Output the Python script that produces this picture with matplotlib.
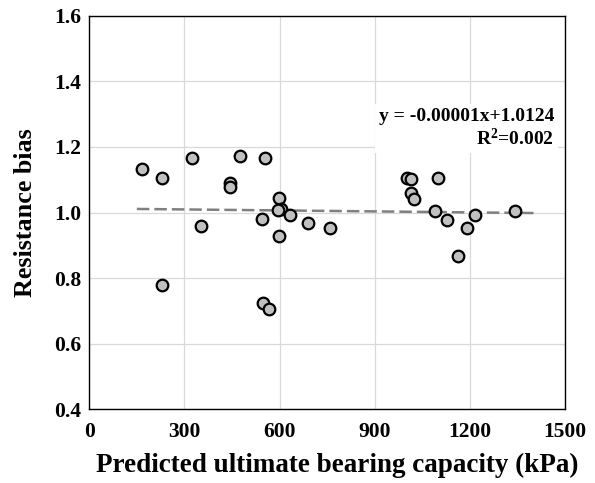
import numpy as np
import matplotlib
matplotlib.use("Agg")
import matplotlib.pyplot as plt

# predicted capacity (kPa) and resistance bias
capacity = [165, 228, 325, 476, 554, 442, 442, 597, 605, 594, 632, 544, 352,
            688, 758, 598, 228, 547, 568,
            1002, 1014, 1098, 1013, 1023, 1088, 1127, 1217, 1191, 1161, 1341]
bias = [1.133, 1.104, 1.167, 1.174, 1.166, 1.090, 1.077, 1.044, 1.012, 1.009,
        0.993, 0.979, 0.960, 0.967, 0.954, 0.929, 0.779, 0.724, 0.705,
        1.105, 1.101, 1.106, 1.059, 1.042, 1.006, 0.977, 0.991, 0.953, 0.866,
        1.004]

# trend line given on the chart
slope = -0.00001
intercept = 1.0124
trend_x = [150, 1400]

xticks = [0, 300, 600, 900, 1200, 1500]
yticks = [0.4, 0.6, 0.8, 1.0, 1.2, 1.4, 1.6]

plt.rcParams["font.family"] = ["Liberation Serif", "DejaVu Serif"]
plt.rcParams["font.weight"] = "bold"
plt.rcParams["mathtext.default"] = "regular"

fig = plt.figure(figsize=(5.95, 4.83), dpi=100)
ax = fig.add_axes([0.150, 0.153, 0.800, 0.814])

tx = np.array(trend_x)
ax.plot(tx, slope * tx + intercept, color="#808080", lw=1.8,
        dashes=(5, 2), zorder=2)
ax.scatter(capacity, bias, s=70, facecolor="#c0c0c0", edgecolor="black",
           linewidth=1.6, zorder=3)

ax.set_xlim(0, 1500)
ax.set_ylim(0.4, 1.6)
ax.set_xticks(xticks)
ax.set_yticks(yticks)
ax.set_yticklabels(["%.1f" % v for v in yticks])
ax.tick_params(length=0, labelsize=15.5)
ax.tick_params(axis="x", pad=9)
ax.tick_params(axis="y", pad=6)
ax.grid(True, color="#d9d9d9", lw=0.9)
ax.set_axisbelow(True)
for s in ax.spines.values():
    s.set_linewidth(1.0)

ax.set_xlabel("Predicted ultimate bearing capacity (kPa)", fontsize=19.5,
              fontweight="bold")
ax.xaxis.set_label_coords(0.522, -0.112)
ax.set_ylabel("Resistance bias", fontsize=18.8, fontweight="bold",
              labelpad=12)

ax.text(1465, 1.256, "y = -0.00001x+1.0124\nR$^2$=0.002",
        ha="right", va="center", fontsize=14, fontweight="bold",
        multialignment="right", linespacing=1.15,
        bbox=dict(facecolor="white", edgecolor="none", pad=3), zorder=4)

fig.savefig("out.png", dpi=100)
